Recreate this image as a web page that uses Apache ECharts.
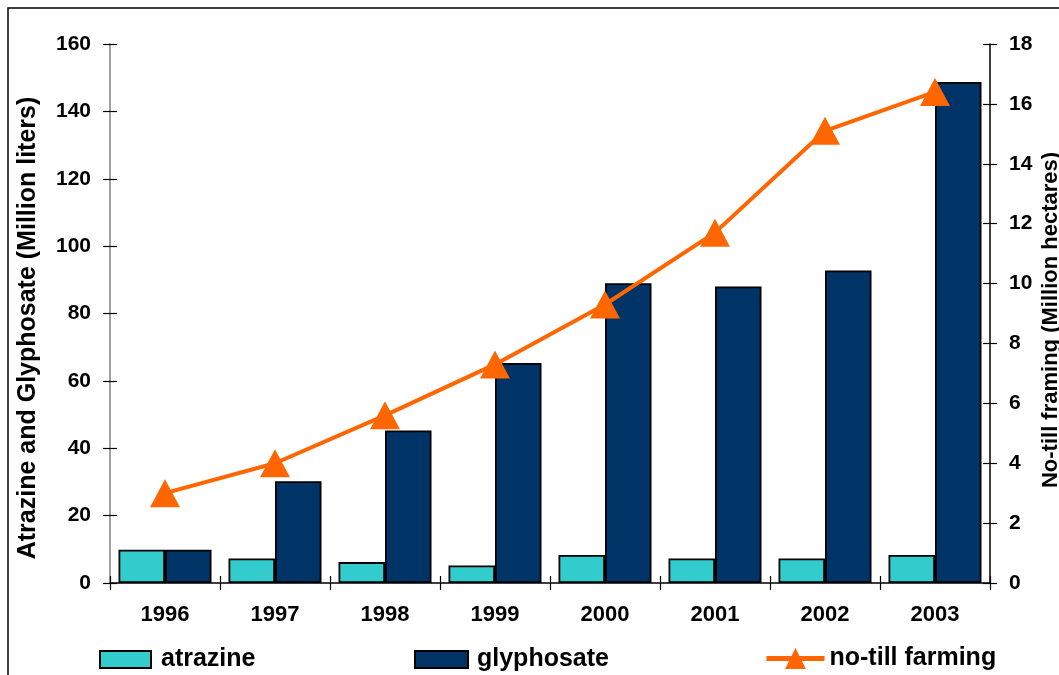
<!DOCTYPE html>
<html>
<head>
<meta charset="utf-8">
<script src="https://cdn.jsdelivr.net/npm/echarts@6/dist/echarts.min.js"></script>
<style>
html,body{margin:0;padding:0;background:#fff;}
#chart{width:1059px;height:675px;}
</style>
</head>
<body>
<div id="chart"></div>
<script>
const years = ['1996','1997','1998','1999','2000','2001','2002','2003'];
const atrazine = [9.9, 7.3, 6.2, 5.2, 8.3, 7.3, 7.3, 8.3];
const glyphosate = [9.9, 30.2, 45.3, 65.3, 89.0, 88.0, 92.8, 148.7];
const noTill = [3.0, 4.0, 5.6, 7.3, 9.3, 11.7, 15.1, 16.4];
const leftTicks = {min: 0, max: 160, interval: 20};
const rightTicks = {min: 0, max: 18, interval: 2};
const leftTitle = 'Atrazine and Glyphosate (Million liters)';
const rightTitle = 'No-till framing (Million hectares)';

const FONT = '"Liberation Sans", Arial, Helvetica, sans-serif';
const chart = echarts.init(document.getElementById('chart'), null, {renderer: 'canvas'});

function yAx(pos, t, showLabel, inside, lineColor) {
  return {
    type: 'value', position: pos, min: t.min, max: t.max, interval: t.interval,
    splitLine: {show: false},
    axisLine: {show: showLabel, lineStyle: {color: lineColor, width: 1.5}},
    axisTick: {show: true, inside: inside, length: 7, lineStyle: {color: '#000', width: 1.2}},
    axisLabel: {show: showLabel, fontFamily: FONT, fontWeight: 'bold', fontSize: 21, color: '#000', margin: 19}
  };
}

const legendText = {fontFamily: FONT, fontWeight: 'bold', fontSize: 25, color: '#000'};

const option = {
  animation: false,
  backgroundColor: '#fff',
  grid: {left: 110, right: 69, top: 44, bottom: 92, containLabel: false},
  xAxis: [
    {type: 'category', data: years, position: 'bottom',
      axisLine: {lineStyle: {color: '#000', width: 1.5}},
      axisTick: {show: true, inside: false, length: 7, lineStyle: {color: '#000', width: 1.2}},
      axisLabel: {fontFamily: FONT, fontWeight: 'bold', fontSize: 22, color: '#000', margin: 21},
      splitLine: {show: false}},
    {type: 'category', data: years, position: 'bottom',
      axisLine: {show: false},
      axisTick: {show: true, inside: true, length: 7, lineStyle: {color: '#000', width: 1.2}},
      axisLabel: {show: false}, splitLine: {show: false}}
  ],
  yAxis: [
    yAx('left', leftTicks, true, false, '#808080'),
    yAx('right', rightTicks, true, false, '#000'),
    yAx('left', leftTicks, false, true, '#808080'),
    yAx('right', rightTicks, false, true, '#000')
  ],
  legend: [
    {data: [{name: 'atrazine', icon: 'rect'}], left: 99, top: 647, padding: 0, itemWidth: 51, itemHeight: 17,
      textStyle: Object.assign({padding: [0,0,0,5]}, legendText)},
    {data: [{name: 'glyphosate', icon: 'rect'}], left: 414, top: 647, padding: 0, itemWidth: 53, itemHeight: 17,
      textStyle: Object.assign({padding: [0,0,0,4]}, legendText)},
    {data: [{name: 'no-till farming'}], left: 764, top: 646, padding: 0, itemWidth: 58, itemHeight: 26,
      lineStyle: {width: 5},
      textStyle: legendText}
  ],
  graphic: [
    {type: 'rect', shape: {x: 8, y: 8, width: 1200, height: 800}, style: {fill: null, stroke: '#000', lineWidth: 1.5}, silent: true},
    {type: 'text', x: 28, y: 328, rotation: Math.PI / 2,
      style: {text: leftTitle, fontFamily: FONT, fontWeight: 'bold', fontSize: 25, fill: '#000', align: 'center', verticalAlign: 'middle'}},
    {type: 'text', x: 1051, y: 320, rotation: Math.PI / 2,
      style: {text: rightTitle, fontFamily: FONT, fontWeight: 'bold', fontSize: 22, fill: '#000', align: 'center', verticalAlign: 'middle'}}
  ],
  series: [
    {name: 'atrazine', type: 'bar', data: atrazine, yAxisIndex: 0, barWidth: 46.5, barGap: '0%',
      itemStyle: {color: '#33CCCC', borderColor: '#000', borderWidth: 1.8}},
    {name: 'glyphosate', type: 'bar', data: glyphosate, yAxisIndex: 0, barWidth: 46.5, barGap: '0%',
      itemStyle: {color: '#003366', borderColor: '#000', borderWidth: 1.8}},
    {name: 'no-till farming', type: 'line', data: noTill, yAxisIndex: 1,
      symbol: 'triangle', symbolSize: [30, 28],
      lineStyle: {color: '#FF6600', width: 4},
      itemStyle: {color: '#FF6600', borderWidth: 0}, z: 5}
  ]
};
chart.setOption(option);
</script>
</body>
</html>
